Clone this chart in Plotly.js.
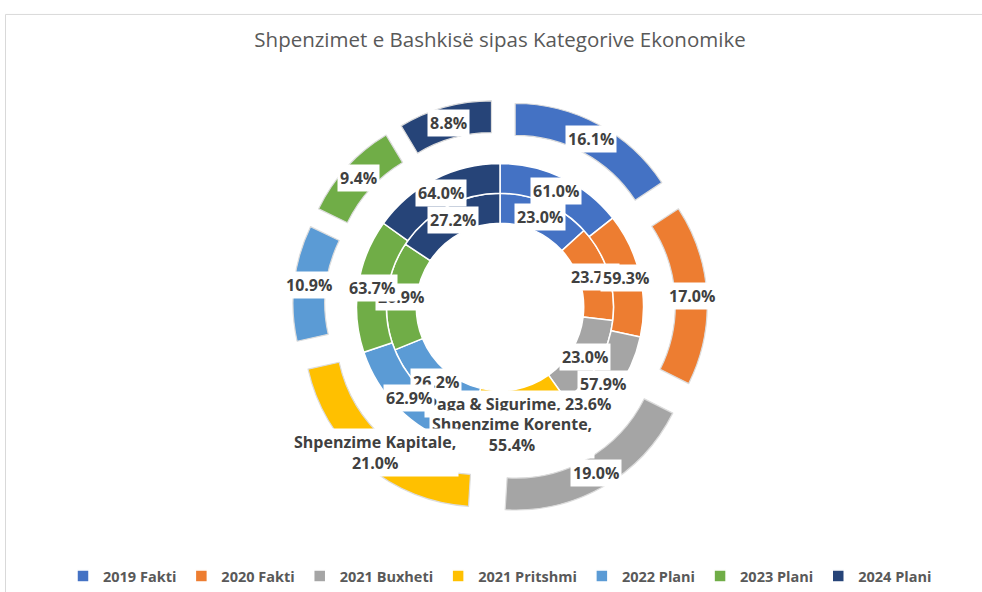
<!DOCTYPE html>
<html><head><meta charset="utf-8">
<script src="https://cdn.plot.ly/plotly-3.0.1.min.js"></script>
<style>html,body{margin:0;padding:0;background:#fff}#chart{width:982px;height:592px}</style>
</head><body><div id="chart"></div>
<script>
// ---- data ----
const categories = ['2019 Fakti','2020 Fakti','2021 Buxheti','2021 Pritshmi','2022 Plani','2023 Plani','2024 Plani'];
const pagaSigurime = [23.0, 23.7, 23.0, 23.6, 26.2, 26.9, 27.2];
const shpenzimeKorente = [61.0, 59.3, 57.9, 55.4, 62.9, 63.7, 64.0];
const shpenzimeKapitale = [16.1, 17.0, 19.0, 21.0, 10.9, 9.4, 8.8];
const seriesNames = ['Paga &amp; Sigurime', 'Shpenzime Korente', 'Shpenzime Kapitale'];
const showSeriesName = [false, false, false, true, false, false, false];

// ---- styling / geometry ----
const colors = ['#4472C4','#ED7D31','#A5A5A5','#FFC000','#5B9BD5','#70AD47','#264478'];
const W = 982, H = 592, CX = 500, CY = 308;
const rings = [
  {values: pagaSigurime, name: seriesNames[0], rOut: 114, rIn: 84, pullPx: 0, line: '#ffffff', lw: 1.5, sep: ', '},
  {values: shpenzimeKorente, name: seriesNames[1], rOut: 144, rIn: 114, pullPx: 0, line: '#ffffff', lw: 1.5, sep: ',<br>'},
  {values: shpenzimeKapitale, name: seriesNames[2], rOut: 176, rIn: 144, pullPx: 32, line: '#dcdcdc', lw: 1.2, sep: ',<br>'}
];

const traces = [];
const annotations = [];
rings.forEach((ring, k) => {
  const half = ring.rOut + ring.pullPx;
  traces.push({
    type: 'pie',
    name: ring.name,
    labels: categories,
    values: ring.values,
    sort: false,
    direction: 'clockwise',
    rotation: 0,
    hole: ring.rIn / ring.rOut,
    pull: ring.pullPx / ring.rOut,
    textinfo: 'none',
    hoverinfo: 'label+value',
    marker: {colors: colors, line: {color: ring.line, width: ring.lw}},
    domain: {x: [(CX - half) / W, (CX + half) / W], y: [1 - (CY + half) / H, 1 - (CY - half) / H]},
    showlegend: true
  });
  const total = ring.values.reduce((a, b) => a + b, 0);
  let cum = 0;
  ring.values.forEach((v, i) => {
    const a = (cum + v / 2) / total * 2 * Math.PI;
    cum += v;
    const rad = (ring.rIn + ring.rOut) / 2 + ring.pullPx;
    const px = CX + rad * Math.sin(a), py = CY - rad * Math.cos(a);
    const txt = (showSeriesName[i] ? ring.name + ring.sep : '') + v.toFixed(1) + '%';
    annotations.push({
      xref: 'paper', yref: 'paper', x: px / W, y: 1 - py / H,
      xanchor: 'center', yanchor: 'middle', showarrow: false,
      text: txt, align: 'center', bgcolor: '#ffffff', borderpad: 2,
      font: {family: 'Open Sans', size: 16, color: '#404040', weight: 700}
    });
  });
});

const layout = {
  width: W, height: H,
  margin: {l: 0, r: 0, t: 0, b: 0},
  paper_bgcolor: '#ffffff',
  title: {
    text: 'Shpenzimet e Bashkisë sipas Kategorive Ekonomike',
    x: 500 / W, xanchor: 'center', y: 1 - 40 / H, yanchor: 'middle',
    font: {family: 'Open Sans', size: 20.5, color: '#595959'}
  },
  legend: {
    orientation: 'h', x: 500 / W, xanchor: 'center', y: 1 - 578 / H, yanchor: 'middle',
    font: {family: 'Open Sans', size: 14.5, color: '#595959', weight: 700},
    traceorder: 'normal'
  },
  shapes: [{
    type: 'rect', xref: 'paper', yref: 'paper', x0: 5.5 / W, x1: 1.05, y0: -0.05, y1: 1 - 14.5 / H,
    line: {color: '#d9d9d9', width: 1}, fillcolor: 'rgba(0,0,0,0)', layer: 'below'
  }],
  annotations: annotations
};

Plotly.newPlot('chart', traces, layout, {displayModeBar: false, staticPlot: true});
</script>
</body></html>
